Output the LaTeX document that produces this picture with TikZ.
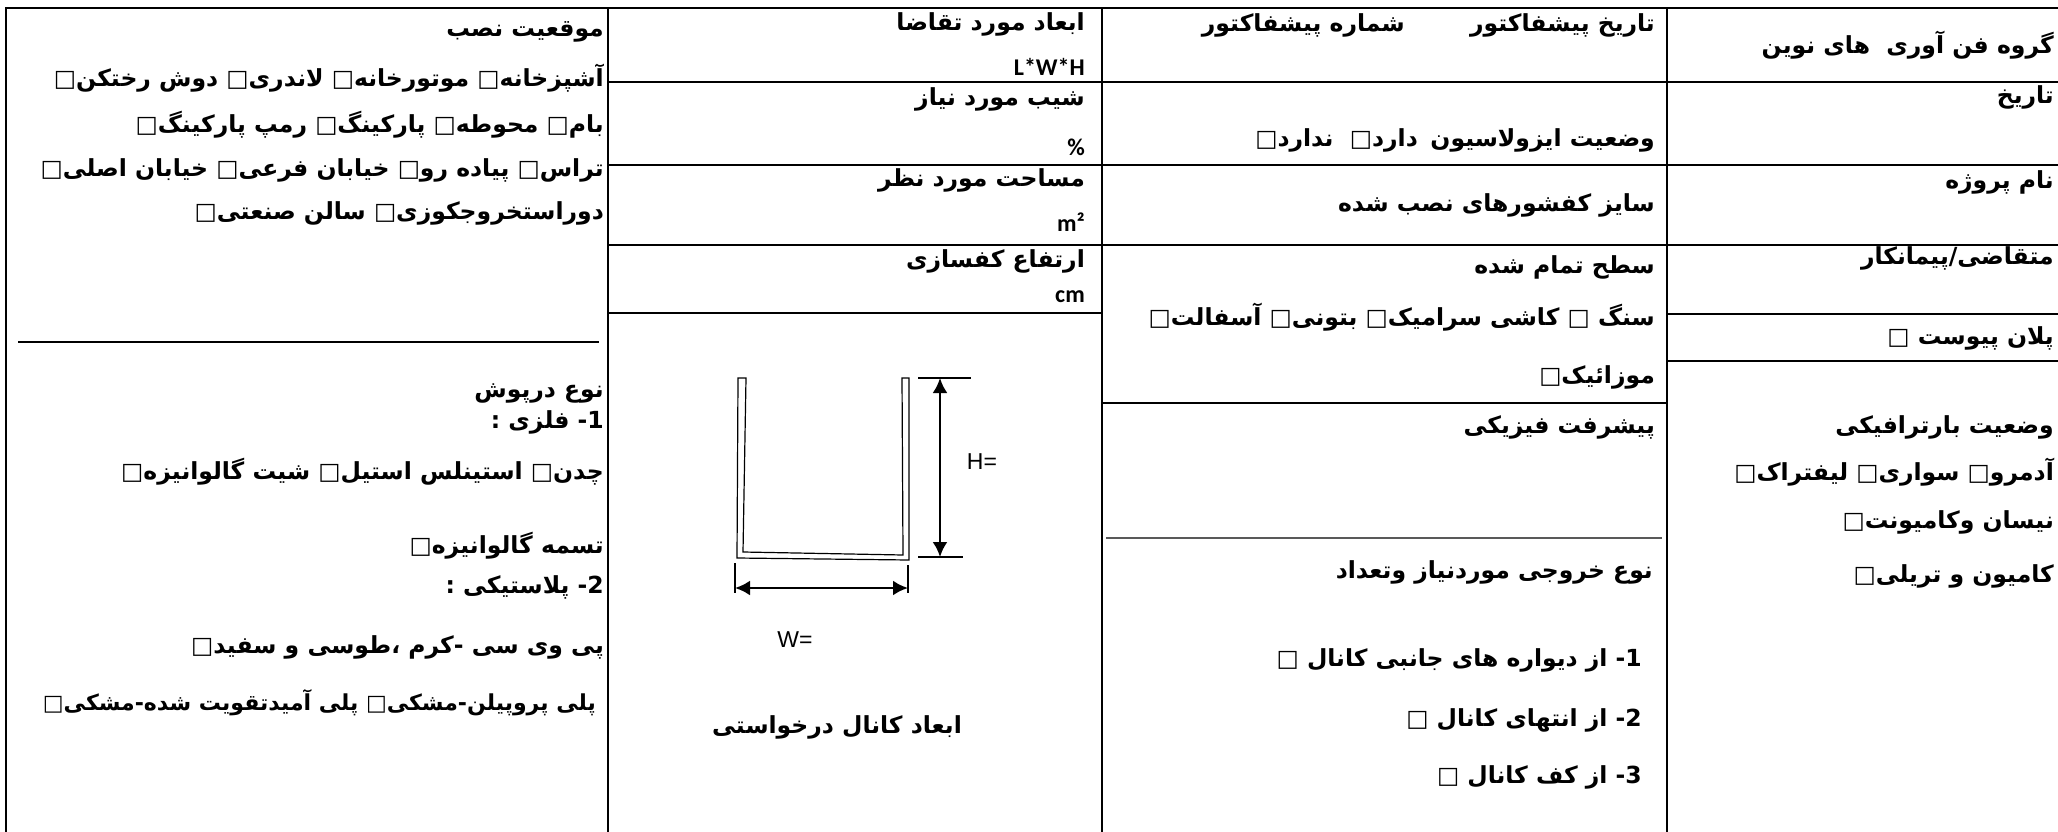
\documentclass[tikz,border=0pt]{standalone}
\usepackage{fontspec}
\usetikzlibrary{arrows.meta}
\TeXXeTstate=1
\newfontfamily\fafont[Script=Arabic]{DejaVu Sans}
\newfontfamily\calfont{Carlito}
\newfontfamily\arialfont{Liberation Sans}

\tikzset{
	fa/.style={anchor=east,inner sep=0pt,font=\fafont\bfseries\fontsize{23.5}{27}\selectfont},
	fasmall/.style={fa,font=\fafont\bfseries\fontsize{22}{26}\selectfont},
	unit/.style={anchor=east,inner sep=0pt,font=\calfont\bfseries\fontsize{24}{28}\selectfont},
	dimtxt/.style={inner sep=0pt,font=\arialfont\fontsize{23}{27}\selectfont}
}
\tikzset{
	tabline/.style={black,line width=2.5pt},
	thinline/.style={black,line width=1.2pt},
	dimarrow/.style={black,line width=2.5pt,{Latex[length=15pt,width=15pt]}-{Latex[length=15pt,width=15pt]}}
}

\begin{document}
\begin{tikzpicture}[x=1pt,y=-1pt]
\useasboundingbox (0,0) rectangle (2058,832);

%Rahmen
\draw[tabline](6,832)--(6,8)--(2058,8);
\draw[tabline](608,8)--(608,832);
\draw[tabline](1102,8)--(1102,832);
\draw[tabline](1667,8)--(1667,832);
\draw[tabline](608,82)--(2058,82);
\draw[tabline](608,165)--(2058,165);
\draw[tabline](608,245)--(2058,245);
\draw[tabline](608,313)--(1102,313);
\draw[tabline](1667,314)--(2058,314);
\draw[tabline](1667,361)--(2058,361);
\draw[tabline](1102,403)--(1667,403);
\draw[tabline](18,342)--(599,342);
\draw[black!65,line width=2pt](1106,538)--(1662,538);

%Spalte 1
\node[fa](grp) at (2054,45) {\beginR گروه فن آوری~ های نوین\endR};
\node[fa](date) at (2054,97) {\beginR تاریخ\endR};
\node[fa](proj) at (2054,182) {\beginR نام پروژه\endR};
\node[fa](client) at (2054,258) {\beginR متقاضی/پیمانکار\endR};
\node[fa](plan) at (2054,338) {\beginR پلان پیوست □\endR};
\node[fa](traffic) at (2054,427) {\beginR وضعیت بارترافیکی\endR};
\node[fa](trA) at (2054,472) {\beginR آدمرو□ سواری□ لیفتراک□\endR};
\node[fa](trB) at (2054,522) {\beginR نیسان وکامیونت□\endR};
\node[fa](trC) at (2054,576) {\beginR کامیون و تریلی□\endR};

%Spalte 2
\node[fa](pfdate) at (1655,25) {\beginR تاریخ پیشفاکتور\endR};
\node[fa](pfnum) at (1405,25) {\beginR شماره پیشفاکتور\endR};
\node[fa](iso) at (1655,140) {\beginR وضعیت ایزولاسیون\endR};
\node[fa](isoopt) at (1418,140) {\beginR دارد□~ ندارد□\endR};
\node[fa](drain) at (1655,205) {\beginR سایز کفشورهای نصب شده\endR};
\node[fa](surf) at (1655,267) {\beginR سطح تمام شده\endR};
\node[fa](surfA) at (1655,317) {\beginR سنگ □ کاشی سرامیک□ بتونی□ آسفالت□\endR};
\node[fa](surfB) at (1655,377) {\beginR موزائیک□\endR};
\node[fa](prog) at (1655,427) {\beginR پیشرفت فیزیکی\endR};
\node[fa](outp) at (1653,572) {\beginR نوع خروجی موردنیاز وتعداد\endR};
\node[fa](outA) at (1642,660) {\beginR 1\kern0pt- از دیواره های جانبی کانال □\endR};
\node[fa](outB) at (1642,720) {\beginR 2\kern0pt- از انتهای کانال □\endR};
\node[fa](outC) at (1642,777) {\beginR 3\kern0pt- از کف کانال □\endR};

%Spalte 3
\node[fa](dimreq) at (1085,24) {\beginR ابعاد مورد تقاضا\endR};
\node[unit](dimunit) at (1085,67) {L*W*H};
\node[fa](slope) at (1085,99) {\beginR شیب مورد نیاز\endR};
\node[unit](slopeunit) at (1085,147) {\%};
\node[fa](area) at (1085,180) {\beginR مساحت مورد نظر\endR};
\node[unit](areaunit) at (1085,222) {m²};
\node[fa](fill) at (1085,261) {\beginR ارتفاع کفسازی\endR};
\node[unit](fillunit) at (1085,297) {cm};

%Kanal
\draw[thinline](738,378)--(737,558)--(909,560)--(909,378)--(902,378)--(903,555)--(743,552)--(746,378)--cycle;
\draw[line width=1.5pt](918,378)--(971,378);
\draw[line width=1.5pt](918,557)--(963,557);
\draw[line width=1.5pt](735,563)--(735,593);
\draw[line width=1.5pt](908,565)--(908,593);
\coordinate (Htop) at (940,378);
\coordinate (Hbot) at (940,557);
\coordinate (Wl) at (735,588);
\coordinate (Wr) at (908,588);
\draw[dimarrow](Htop)--(Hbot);
\draw[dimarrow](Wl)--(Wr);
\node[dimtxt](Hlbl) at (982,462) {H=};
\node[dimtxt](Wlbl) at (795,640) {W=};
\node[fa,anchor=center](chcap) at (837,727) {\beginR ابعاد کانال درخواستی\endR};

%Spalte 4
\node[fa](loc) at (604,32) {\beginR موقعیت نصب\endR};
\node[fa](locA) at (604,78) {\beginR آشپزخانه□ موتورخانه□ لاندری□ دوش رختکن□\endR};
\node[fa](locB) at (604,125) {\beginR بام□ محوطه□ پارکینگ□ رمپ پارکینگ□\endR};
\node[fa](locC) at (604,170) {\beginR تراس□ پیاده رو□ خیابان فرعی□ خیابان اصلی□\endR};
\node[fa](locD) at (604,213) {\beginR دوراستخروجکوزی□ سالن صنعتی□\endR};
\node[fa](cover) at (604,393) {\beginR نوع درپوش\endR};
\node[fa](metal) at (604,422) {\beginR 1\kern0pt- فلزی :\endR};
\node[fa](metA) at (604,472) {\beginR چدن□ استینلس استیل□ شیت گالوانیزه□\endR};
\node[fa](metB) at (604,546) {\beginR تسمه گالوانیزه□\endR};
\node[fa](plast) at (604,587) {\beginR 2\kern0pt- پلاستیکی :\endR};
\node[fa](plA) at (604,647) {\beginR پی وی سی -کرم ،طوسی و سفید□\endR};
\node[fasmall](plB) at (596,703) {\beginR پلی پروپیلن-مشکی□ پلی آمیدتقویت شده-مشکی□\endR};
\end{tikzpicture}
\end{document}
